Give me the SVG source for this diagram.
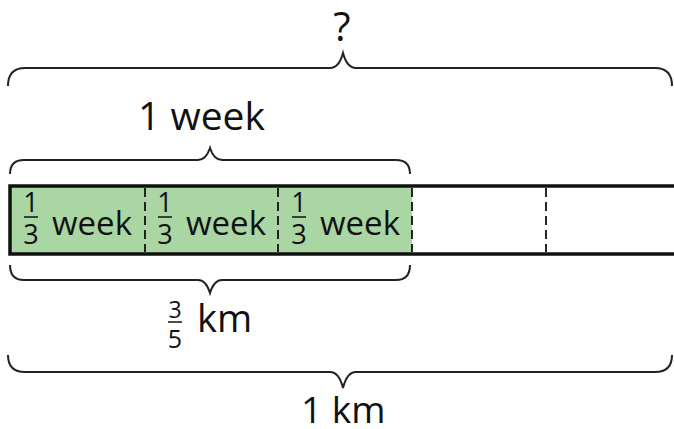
<svg xmlns="http://www.w3.org/2000/svg" width="674" height="429" viewBox="0 0 674 429">
<style>
text{font-family:"Open Sans","Noto Sans","Liberation Sans",sans-serif;fill:#111;}
.brace{fill:none;stroke:#222;stroke-width:2;}
.dash{stroke:#111;stroke-width:1.8;stroke-dasharray:9,5;}
.edge{stroke:#111;stroke-width:3.5;fill:none;}
.num{font-size:27px;text-anchor:middle;}
.fb{stroke:#111;stroke-width:1.5;}
</style>
<rect width="674" height="429" fill="#fff"/>
<g id="bar">
<rect x="10" y="186" width="402" height="68" fill="#a9d6a3"/>
<path class="edge" d="M674 186 H10 V254 H674"/>
</g>
<g id="connectors">
<path class="brace" d="M8 86 Q8 68 25 68 H330 Q339 68 343 53 Q347 68 356 68 H655 Q672 68 672 86"/>
<path class="brace" d="M10 174 Q10 160 24 160 H198 Q206 160 210 148 Q214 160 222 160 H396 Q410 160 410 174"/>
<path class="brace" d="M10 265 Q10 280 24 280 H198 Q206 280 210 293 Q214 280 222 280 H396 Q410 280 410 265"/>
<path class="brace" d="M8 355 Q8 372 25 372 H330 Q339 372 343 388 Q347 372 356 372 H655 Q672 372 672 355"/>
<line class="dash" x1="145" y1="188" x2="145" y2="252"/>
<line class="dash" x1="278" y1="188" x2="278" y2="252"/>
<line class="dash" x1="412" y1="188" x2="412" y2="252"/>
<line class="dash" x1="546" y1="188" x2="546" y2="252"/>
</g>
<g id="label-total">
<text x="342" y="41" font-size="40" text-anchor="middle">?</text>
</g>
<g id="label-week">
<text x="138" y="130" font-size="39">1 week</text>
</g>
<g id="seg1">
<text class="num" x="31" y="212">1</text>
<line class="fb" x1="24" y1="217" x2="38" y2="217"/>
<text class="num" x="31" y="244">3</text>
<text x="52" y="235" font-size="33">week</text>
</g>
<g id="seg2">
<text class="num" x="165" y="212">1</text>
<line class="fb" x1="158" y1="217" x2="172" y2="217"/>
<text class="num" x="165" y="244">3</text>
<text x="186" y="235" font-size="33">week</text>
</g>
<g id="seg3">
<text class="num" x="299" y="212">1</text>
<line class="fb" x1="292" y1="217" x2="306" y2="217"/>
<text class="num" x="299" y="244">3</text>
<text x="320" y="235" font-size="33">week</text>
</g>
<g id="label-km35">
<text x="175" y="318" font-size="23" text-anchor="middle">3</text>
<line class="fb" x1="168" y1="322" x2="182" y2="322"/>
<text x="175" y="348" font-size="25" text-anchor="middle">5</text>
<text x="197" y="332" font-size="38">km</text>
</g>
<g id="label-km1">
<text x="301" y="423" font-size="37">1 km</text>
</g>
</svg>
